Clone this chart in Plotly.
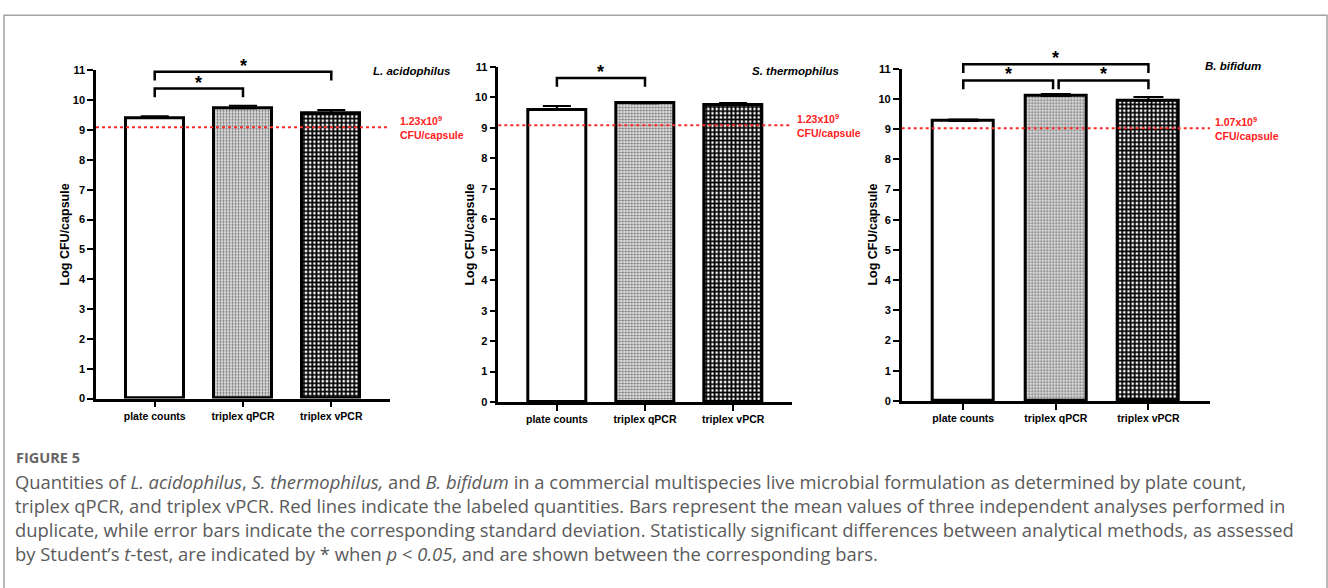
import math
import plotly.graph_objects as go

W, H = 1328, 588

# ---------------- data ----------------
categories = ["plate counts", "triplex qPCR", "triplex vPCR"]

la_means = [9.40, 9.73, 9.57]
la_sd = [0.06, 0.08, 0.10]
st_means = [9.59, 9.81, 9.75]
st_sd = [0.13, 0.03, 0.07]
bb_means = [9.27, 10.10, 9.95]
bb_sd = [0.05, 0.06, 0.11]

la_label_cfu = 1.23e9
st_label_cfu = 1.23e9
bb_label_cfu = 1.07e9

la_sig_pairs = [(0, 1), (0, 2)]
st_sig_pairs = [(0, 1)]
bb_sig_pairs = [(0, 1), (1, 2), (0, 2)]

y_ticks = list(range(0, 12))


def px_x(p):
    return p / W


def px_y(p):
    return 1 - p / H


panels = [
    dict(means=la_means, sd=la_sd, cfu=la_label_cfu, pairs=la_sig_pairs,
         species="L. acidophilus", lab="1.23x10<sup>9</sup>",
         xpx=(96, 390), ypx=(65.7, 400.7), tpx=65, sp=(411, 66), lshift=8,
         btops=[10.39, 10.95], cap=14),
    dict(means=st_means, sd=st_sd, cfu=st_label_cfu, pairs=st_sig_pairs,
         species="S. thermophilus", lab="1.23x10<sup>9</sup>",
         xpx=(498.3, 791.7), ypx=(62.3, 404.3), tpx=470, sp=(795, 66.5), lshift=3,
         btops=[10.64], cap=14),
    dict(means=bb_means, sd=bb_sd, cfu=bb_label_cfu, pairs=bb_sig_pairs,
         species="B. bifidum", lab="1.07x10<sup>9</sup>",
         xpx=(901.7, 1210), ypx=(64, 403.3), tpx=872.7, sp=(1233, 61), lshift=3,
         btops=[10.61, 10.61, 11.15], cap=15),
]

YMAX = 11
fig = go.Figure()
shapes = []
annotations = []

pattern_shapes = ["", ".", "+"]
pattern_bg = ["white", "#dedede", "white"]
pattern_fg = ["black", "#6a6a6a", "black"]
pattern_size = [6, 3, 4.2]
pattern_sol = [0.3, 0.35, 0.68]

xpos = list(range(len(categories)))
tickfont = dict(family="Liberation Sans", size=11, color="black", weight="bold")

for k, p in enumerate(panels):
    sfx = "" if k == 0 else str(k + 1)
    xa, ya = "x" + sfx, "y" + sfx
    fig.add_trace(go.Bar(
        x=xpos, y=p["means"], width=0.66, xaxis=xa, yaxis=ya,
        marker=dict(color="white", line=dict(color="black", width=3),
                    pattern=dict(shape=pattern_shapes, bgcolor=pattern_bg,
                                 fgcolor=pattern_fg, size=pattern_size,
                                 solidity=pattern_sol, fillmode="replace")),
        error_y=dict(type="data", array=p["sd"], arrayminus=[0] * len(p["sd"]),
                     symmetric=False, color="black", thickness=2, width=p["cap"]),
        showlegend=False, hoverinfo="skip",
    ))
    xl = "xaxis" + sfx
    yl = "yaxis" + sfx
    fig.update_layout(**{
        xl: dict(domain=[px_x(p["xpx"][0]), px_x(p["xpx"][1])], anchor=ya,
                 range=[-0.665, 2.665], tickvals=xpos, ticktext=categories,
                 showline=True, linecolor="black", linewidth=2.5,
                 ticks="outside", ticklen=6, tickwidth=2, tickcolor="black",
                 showgrid=False, zeroline=False, tickfont=dict(tickfont, size=10.5)),
        yl: dict(domain=[px_y(p["ypx"][1]), px_y(p["ypx"][0])], anchor=xa,
                 range=[0, YMAX], tickvals=y_ticks,
                 showline=True, linecolor="black", linewidth=2.5,
                 ticks="outside", ticklen=6, tickwidth=2, tickcolor="black",
                 showgrid=False, zeroline=False, tickfont=tickfont),
    })
    # labeled quantity line
    lv = math.log10(p["cfu"])
    shapes.append(dict(type="line", xref=xa + " domain", yref=ya, x0=0, x1=1,
                       y0=lv, y1=lv, line=dict(color="#ff2a2a", width=2, dash="dot")))
    annotations.append(dict(xref=xa + " domain", yref=ya, x=1, y=lv,
                            text=p["lab"] + "<br>CFU/capsule", showarrow=False,
                            xanchor="left", yanchor="middle", align="left",
                            xshift=p["lshift"],
                            font=dict(family="Liberation Sans", size=10.5,
                                      color="#ff2020", weight="bold")))
    # significance brackets
    for (i, j), top in zip(p["pairs"], p["btops"]):
        li = i + (0.03 if (k == 2 and i == 1) else 0)
        rj = j - (0.03 if (k == 2 and j == 1) else 0)
        leg = top - 0.29
        t, b = top / YMAX, leg / YMAX
        shapes.append(dict(type="path", xref=xa, yref=ya + " domain",
                           path=f"M {li},{b} L {li},{t} L {rj},{t} L {rj},{b}",
                           line=dict(color="black", width=2.5)))
        annotations.append(dict(xref=xa, yref=ya + " domain", x=(li + rj) / 2, y=t,
                                text="*", showarrow=False, xanchor="center",
                                yanchor="bottom", yshift=-6,
                                font=dict(family="Liberation Sans", size=18,
                                          color="black", weight="bold")))
    # species label
    annotations.append(dict(xref="paper", yref="paper", x=px_x(p["sp"][0]),
                            y=px_y(p["sp"][1]), text="<i>" + p["species"] + "</i>",
                            showarrow=False, xanchor="center", yanchor="middle",
                            font=dict(family="Liberation Sans", size=11.5,
                                      color="black", weight="bold")))
    # y-axis title
    annotations.append(dict(xref="paper", yref="paper", x=px_x(p["tpx"]),
                            y=(px_y(p["ypx"][0]) + px_y(p["ypx"][1])) / 2,
                            text="Log CFU/capsule", textangle=-90, showarrow=False,
                            xanchor="center", yanchor="middle",
                            font=dict(family="Liberation Sans", size=12.5,
                                      color="black", weight="bold")))

# outer frame
shapes.append(dict(type="rect", xref="paper", yref="paper",
                   x0=px_x(4), x1=px_x(1327), y0=px_y(600), y1=px_y(9.5),
                   line=dict(color="#a3a3a3", width=1.5), fillcolor="rgba(0,0,0,0)"))

# caption
annotations.append(dict(xref="paper", yref="paper", x=px_x(14), y=px_y(461),
                        text="FIGURE 5", showarrow=False, xanchor="left",
                        yanchor="middle",
                        font=dict(family="Open Sans", size=14.5, color="#666666",
                                  weight="bold")))
caption_lines = [
    "Quantities of <i>L. acidophilus</i>, <i>S. thermophilus,</i> and <i>B. bifidum</i> in a commercial multispecies live microbial formulation as determined by plate count,",
    "triplex qPCR, and triplex vPCR. Red lines indicate the labeled quantities. Bars represent the mean values of three independent analyses performed in",
    "duplicate, while error bars indicate the corresponding standard deviation. Statistically significant differences between analytical methods, as assessed",
    "by Student\u2019s <i>t</i>-test, are indicated by * when <i>p</i> < <i>0.05</i>, and are shown between the corresponding bars.",
]
for n, line in enumerate(caption_lines):
    annotations.append(dict(xref="paper", yref="paper", x=px_x(13), y=px_y(485 + 24.5 * n),
                            text=line, showarrow=False, xanchor="left", yanchor="middle",
                            font=dict(family="Open Sans", size=18.4, color="#5a5a5a")))

fig.update_layout(
    width=W, height=H, autosize=False,
    margin=dict(l=0, r=0, t=0, b=0),
    paper_bgcolor="white", plot_bgcolor="rgba(0,0,0,0)",
    barmode="overlay", bargap=0,
    shapes=shapes, annotations=annotations,
)

fig.write_html("out.html", config={"displayModeBar": False},
               post_script="document.body.style.margin='0';document.body.style.overflow='hidden';")
